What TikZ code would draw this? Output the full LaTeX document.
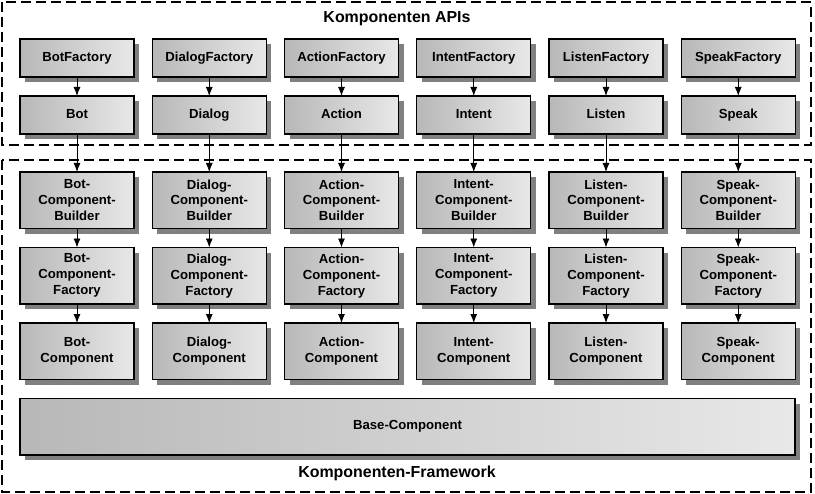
\documentclass[tikz,border=0pt]{standalone}
\usepackage{fontspec}
\setmainfont{Liberation Sans}
\usetikzlibrary{positioning,arrows.meta,shadows}

\begin{document}
\begin{tikzpicture}[x=1bp,y=-1bp,
    comp/.style={draw=black, line width=1.4bp, outer sep=0pt,
        left color=black!28, right color=black!9,
        drop shadow={shadow xshift=5bp, shadow yshift=-5bp, fill=black!50, opacity=1},
        minimum width=114bp, minimum height=56.5bp,
        align=center, inner sep=2bp,
        font=\bfseries\fontsize{13.2}{16}\selectfont},
    apibox/.style={comp, minimum height=38bp, text height=9.5bp, text depth=3bp},
    flow/.style={-{Latex[length=9bp,width=7bp]}, line width=0.9bp},
    groupframe/.style={draw=black, line width=2bp, dash pattern=on 10bp off 5bp},
    grouptitle/.style={font=\bfseries\fontsize{16}{19}\selectfont}
    ]
    \useasboundingbox (0,0) rectangle (815,494);
    \draw[groupframe] (2,2) rectangle (811,145);
    \draw[groupframe] (2,160) rectangle (811,492);
    \node[grouptitle] (apititle) at (397,19) {Komponenten APIs};
    \node[grouptitle] (fwtitle) at (397,473) {Komponenten-Framework};
    % one column per component
    \foreach \name [count=\c, evaluate=\c as \x using 77+(\c-1)*132.25]
            in {Bot,Dialog,Action,Intent,Listen,Speak} {
        \node[apibox] (fac-\c) at (\x,58) {\name Factory};
        \node[apibox, below=19bp of fac-\c] (api-\c) {\name};
        \node[comp, below=38bp of api-\c] (bld-\c) {\name-\\Component-\\Builder};
        \node[comp, below=19bp of bld-\c] (cfac-\c) {\name-\\Component-\\Factory};
        \node[comp, below=19bp of cfac-\c] (cmp-\c) {\name-\\Component};
        \draw[flow] (fac-\c) -- (api-\c);
        \draw[flow] (api-\c) -- (bld-\c);
        \draw[flow] (bld-\c) -- (cfac-\c);
        \draw[flow] (cfac-\c) -- (cmp-\c);
    }
    \node[comp, minimum width=775bp, anchor=north west]
        (base) at ([yshift=-19bp]cmp-1.south west) {Base-Component};
\end{tikzpicture}
\end{document}
